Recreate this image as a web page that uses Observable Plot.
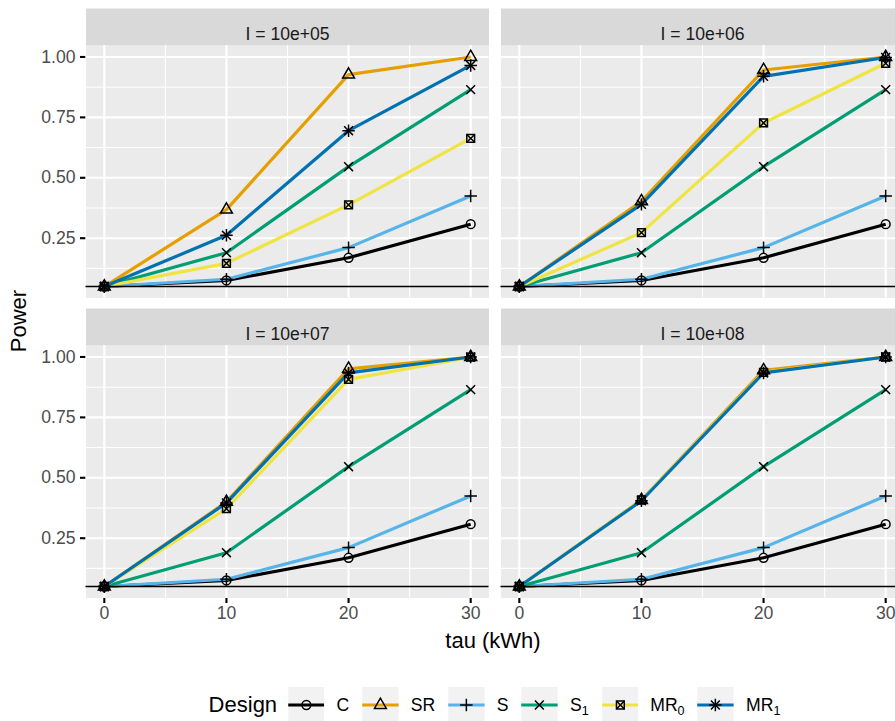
<!DOCTYPE html>
<html>
<head>
<meta charset="utf-8">
<script src="https://cdn.jsdelivr.net/npm/d3@7"></script>
<script src="https://cdn.jsdelivr.net/npm/@observablehq/plot@0.6"></script>
<style>
  body { margin: 0; background: #fff; font-family: "Liberation Sans", Arial, Helvetica, sans-serif; }
  #wrap { position: relative; width: 895px; height: 721px; overflow: hidden; background: #fff; }
  #chart { position: absolute; left: 0; top: 0; }
  #chart svg { max-width: none !important; }
  .ttl { position: absolute; color: #000; font-size: 22px; white-space: nowrap; line-height: 1; }
  #ylab { left: 18.5px; top: 321px; transform: translate(-50%, -50%) rotate(-90deg); }
  #xlab { left: 493px; top: 641px; transform: translate(-50%, -50%); }
  #legend { position: absolute; left: 494.5px; top: 705px; transform: translate(-50%, -50%);
            display: flex; align-items: center; white-space: nowrap; }
  #legend .title { font-size: 22px; color: #000; margin-right: 11px; }
  #legend .key { display: block; margin-right: 12px; }
  #legend .lab { font-size: 17.6px; color: #000; margin-right: 13px; white-space: nowrap; }
  #legend .lab:last-child { margin-right: 0; }
  #legend .lab sub { font-size: 12.5px; vertical-align: -4px; line-height: 0; }
</style>
</head>
<body>
<div id="wrap">
  <div id="chart"></div>
  <div class="ttl" id="ylab">Power</div>
  <div class="ttl" id="xlab">tau (kWh)</div>
  <div id="legend"></div>
</div>
<script>
// ---------------- data ----------------
const panelLabels = ["I = 10e+05", "I = 10e+06", "I = 10e+07", "I = 10e+08"];
const designs = ["C", "SR", "S", "S1", "MR0", "MR1"];
const designLabelBase = ["C", "SR", "S", "S", "MR", "MR"];
const designLabelSub = ["", "", "", "1", "0", "1"];
const designColors = ["#000000", "#E69F00", "#56B4E9", "#009E73", "#F0E442", "#0072B2"];
const tauValues = [0, 10, 20, 30];
const xTicks = [0, 10, 20, 30];
const xMinor = [5, 15, 25];
const yTicks = [0.25, 0.5, 0.75, 1.0];
const yMinor = [0.125, 0.375, 0.625, 0.875];
const referenceLevel = [0.05];

// power values: one row per panel (I = 10e+05, 10e+06, 10e+07, 10e+08), columns = tau 0,10,20,30
const powerC = [
  [0.05, 0.075, 0.169, 0.308],
  [0.05, 0.075, 0.169, 0.308],
  [0.05, 0.075, 0.169, 0.308],
  [0.05, 0.075, 0.169, 0.308]
];
const powerSR = [
  [0.05, 0.368, 0.927, 1.000],
  [0.05, 0.403, 0.946, 1.000],
  [0.05, 0.400, 0.951, 1.000],
  [0.05, 0.408, 0.945, 1.000]
];
const powerS = [
  [0.05, 0.080, 0.211, 0.425],
  [0.05, 0.080, 0.211, 0.425],
  [0.05, 0.080, 0.211, 0.425],
  [0.05, 0.080, 0.211, 0.425]
];
const powerS1 = [
  [0.05, 0.190, 0.546, 0.865],
  [0.05, 0.190, 0.546, 0.865],
  [0.05, 0.190, 0.546, 0.865],
  [0.05, 0.190, 0.546, 0.865]
];
const powerMR0 = [
  [0.05, 0.146, 0.388, 0.663],
  [0.05, 0.273, 0.727, 0.974],
  [0.05, 0.372, 0.907, 0.999],
  [0.05, 0.408, 0.936, 1.000]
];
const powerMR1 = [
  [0.05, 0.262, 0.695, 0.965],
  [0.05, 0.390, 0.920, 0.998],
  [0.05, 0.396, 0.934, 1.000],
  [0.05, 0.405, 0.934, 1.000]
];
const powerByDesign = [powerC, powerSR, powerS, powerS1, powerMR0, powerMR1];

// tidy table for Plot
const rows = [];
panelLabels.forEach((lab, p) => {
  designs.forEach((d, k) => {
    tauValues.forEach((t, j) => {
      rows.push({panel: lab, col: p % 2, row: Math.floor(p / 2), design: d, tau: t, power: powerByDesign[k][p][j]});
    });
  });
});
const panelRows = panelLabels.map((lab, p) => ({label: lab, col: p % 2, row: Math.floor(p / 2)}));

// ---------------- symbols (ggplot shapes 1,2,3,4,7,8) ----------------
const symbolSpecs = {
  C:   [[d3.symbolCircle, 4.4]],
  SR:  [[d3.symbolTriangle, 4.4]],
  S:   [[d3.symbolPlus, 4.1]],
  S1:  [[d3.symbolTimes, 4.1]],
  MR0: [[d3.symbolSquare, 4.4], [d3.symbolTimes, 3.65]],
  MR1: [[d3.symbolPlus, 4.1], [d3.symbolTimes, 4.1]]
};

// ---------------- layout ----------------
const W = 904, H = 660;
const mL = 85.5, mR = 0.5, mT = 45, mB = 62.5;
const gapX = 12, gapY = 47.5;
const panelW = (W - mL - mR - gapX) / 2;
const panelH = (H - mT - mB - gapY) / 2;
const stripH = 37;

const marks = [
  Plot.frame({fill: "#EBEBEB"}),
  Plot.frame({fill: "#D9D9D9", insetTop: -stripH, insetBottom: panelH}),
  Plot.text(panelRows, {fx: "col", fy: "row", text: "label", frameAnchor: "top", dy: -stripH / 2,
    fill: "#1A1A1A", fontSize: 17.6}),
  Plot.ruleY(yMinor, {stroke: "#fff", strokeWidth: 1.07}),
  Plot.ruleX(xMinor, {stroke: "#fff", strokeWidth: 1.07}),
  Plot.ruleY(yTicks, {stroke: "#fff", strokeWidth: 2.13}),
  Plot.ruleX(xTicks, {stroke: "#fff", strokeWidth: 2.13}),
  Plot.line(rows, {fx: "col", fy: "row", x: "tau", y: "power", z: "design", stroke: "design",
    strokeWidth: 3.2, strokeLinejoin: "round", strokeLinecap: "butt"}),
  Plot.ruleY(referenceLevel, {stroke: "#000", strokeWidth: 1.3})
];
designs.forEach(d => {
  const sub = rows.filter(r => r.design === d);
  symbolSpecs[d].forEach(([sym, r]) => {
    marks.push(Plot.dot(sub, {fx: "col", fy: "row", x: "tau", y: "power", symbol: sym, r,
      stroke: "#000", fill: "none", strokeWidth: 1.5}));
  });
});

const chart = Plot.plot({
  width: W, height: H,
  marginLeft: mL, marginRight: mR, marginTop: mT, marginBottom: mB,
  style: {fontFamily: '"Liberation Sans", Arial, Helvetica, sans-serif', fontSize: "17.6px", background: "#fff", maxWidth: "none", overflow: "visible"},
  fx: {axis: null, domain: [0, 1], paddingInner: gapX / (panelW + gapX), paddingOuter: 0, round: false},
  fy: {axis: null, domain: [0, 1], paddingInner: gapY / (panelH + gapY), paddingOuter: 0, round: false},
  x: {domain: [-1.5, 31.5], ticks: xTicks, tickFormat: d => String(d), tickSize: 5.5, tickPadding: 2.5, label: null},
  y: {domain: [0.0025, 1.0475], ticks: yTicks, tickFormat: d3.format(".2f"), tickSize: 5.5, tickPadding: 5, label: null},
  color: {domain: designs, range: designColors},
  marks
});
chart.style.maxWidth = "none";
document.getElementById("chart").appendChild(chart);

// axis styling like ggplot theme_gray
d3.select(chart).selectAll('g[aria-label$="-axis tick"]').attr("stroke", "#333333").attr("stroke-width", 2.1);
d3.select(chart).selectAll('g[aria-label$="-axis tick label"]').attr("fill", "#4D4D4D").attr("font-size", 17.6);

// ---------------- legend ----------------
const legend = d3.select("#legend");
legend.append("span").attr("class", "title").text("Design");
const K = 36.5;
designs.forEach((d, k) => {
  const svg = legend.append("svg").attr("class", "key").attr("width", K).attr("height", K);
  svg.append("rect").attr("width", K).attr("height", K).attr("fill", "#F2F2F2");
  svg.append("line").attr("x1", 0).attr("x2", K).attr("y1", K / 2).attr("y2", K / 2)
    .attr("stroke", designColors[k]).attr("stroke-width", 3.2);
  symbolSpecs[d].forEach(([sym, r]) => {
    svg.append("path").attr("d", d3.symbol(sym, Math.PI * r * r)())
      .attr("transform", `translate(${K / 2},${K / 2})`)
      .attr("fill", "none").attr("stroke", "#000").attr("stroke-width", 1.5);
  });
  const lab = legend.append("span").attr("class", "lab").text(designLabelBase[k]);
  if (designLabelSub[k]) lab.append("sub").text(designLabelSub[k]);
});
</script>
</body>
</html>
